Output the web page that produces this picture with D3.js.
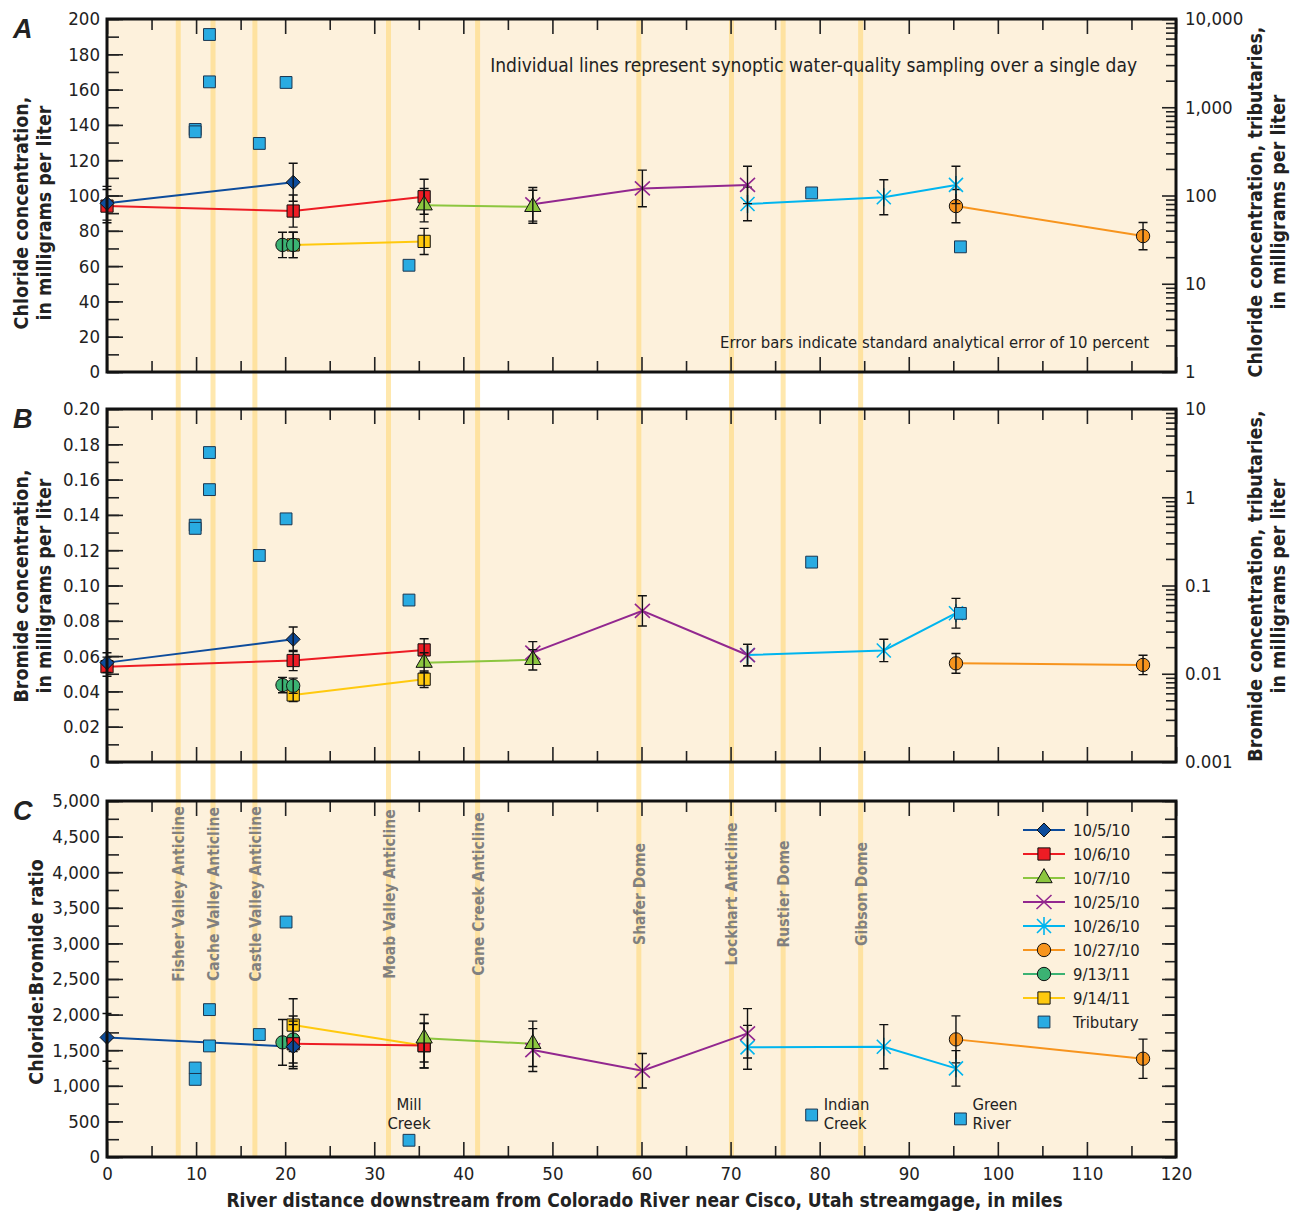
<!DOCTYPE html>
<html lang="en">

<head>
  <meta charset="UTF-8">
  <title>Chloride and bromide along the Colorado River</title>
  <style>
    body { margin: 0; background: #fff; }
    svg text { font-family: "DejaVu Sans Condensed", "DejaVu Sans", sans-serif; font-stretch: condensed; fill: #222; }
  </style>
</head>

<body>
  <script src="https://cdn.jsdelivr.net/npm/d3@7"></script>
  <script>
    // sampling dates (one synoptic run each)
    const dates = ['10/5/10', '10/6/10', '10/7/10', '10/25/10', '10/26/10', '10/27/10', '9/13/11', '9/14/11']
    // river miles of main-stem samples, per date
    const siteMiles = [[0, 20.9], [0, 20.9, 35.6], [35.6, 47.8], [47.8, 60.1, 71.9], [71.9, 87.2, 95.3], [95.3, 116.3], [19.7, 20.9], [20.9, 35.6]]
    // chloride, mg/L
    const chloride = [[95.6, 107.5], [94, 91.2, 99.3], [94.5, 93.6], [95, 104, 106], [95.2, 99, 106], [94, 77], [72, 72], [72, 74]]
    // bromide, mg/L
    const bromide = [[0.0563, 0.0695], [0.054, 0.0575, 0.0635], [0.0563, 0.0579], [0.062, 0.0856, 0.0606], [0.0606, 0.0632, 0.0843], [0.0559, 0.055], [0.0436, 0.0432], [0.038, 0.0469]]
    // chloride:bromide ratio (no ratio plotted for 10/6/10 at mile 0)
    const ratio = [[1680, 1549], [null, 1590, 1565], [1667, 1590], [1502, 1212, 1737], [1540, 1549, 1245], [1652, 1380], [1610, 1650], [1853, 1563]]

    // tributaries
    const tribMiles = [9.9, 9.9, 11.5, 11.5, 17.1, 20.1, 33.9, 79.1, 95.8]
    const tribChloride = [560, 527, 6670, 1940, 389, 1910, 16.2, 107, 26.2]
    const tribBromide = [0.483, 0.444, 3.21, 1.22, 0.219, 0.569, 0.0684, 0.184, 0.0483]
    const tribRatio = [1250, 1090, 2070, 1560, 1720, 3300, 235, 590, 535]

    // geologic structures crossed by the river
    const structureNames = ['Fisher Valley Anticline', 'Cache Valley Anticline', 'Castle Valley Anticline', 'Moab Valley Anticline', 'Cane Creek Anticline', 'Shafer Dome', 'Lockhart Anticline', 'Rustier Dome', 'Gibson Dome']
    const structureMiles = [8.0, 11.9, 16.6, 31.6, 41.6, 59.7, 70.1, 75.9, 84.6]

    // tick labels
    const xTickLabels = [0, 10, 20, 30, 40, 50, 60, 70, 80, 90, 100, 110, 120]
    const clTicks = [0, 20, 40, 60, 80, 100, 120, 140, 160, 180, 200]
    const brTicks = [0, 0.02, 0.04, 0.06, 0.08, 0.10, 0.12, 0.14, 0.16, 0.18, 0.20]
    const ratioTicks = [0, 500, 1000, 1500, 2000, 2500, 3000, 3500, 4000, 4500, 5000]
    const clLogTicks = [1, 10, 100, 1000, 10000]
    const brLogTicks = [0.001, 0.01, 0.1, 1, 10]

    const colors = ['#0d4c9c', '#ed1c24', '#8cc63f', '#92278f', '#00b5ef', '#f7941d', '#3bb273', '#ffc90e']
    const shapes = ['diamond', 'square', 'triangle', 'x', 'asterisk', 'circle', 'circle', 'square']
    const drawOrder = [7, 6, 5, 4, 3, 1, 2, 0]

    let width = 1297
    let height = 1215
    let svg = d3.select('body')
      .append('svg')
      .attr('width', width)
      .attr('height', height)

    let xScale = d3.scaleLinear().domain([0, 120]).range([107, 1176])

    let panels = [
      {
        top: 19, bottom: 372, letter: 'A',
        y: d3.scaleLinear().domain([0, 200]).range([372, 19]),
        ticks: clTicks, minor: 10, fmt: d3.format('d'),
        yLog: d3.scaleLog().domain([1, 10000]).range([372, 19]), logTicks: clLogTicks, logFmt: d3.format(','),
        values: chloride, err: 0.1, trib: tribChloride
      },
      {
        top: 409, bottom: 762, letter: 'B',
        y: d3.scaleLinear().domain([0, 0.2]).range([762, 409]),
        ticks: brTicks, minor: 0.01, fmt: d => d === 0 ? '0' : d3.format('.2f')(d),
        yLog: d3.scaleLog().domain([0.001, 10]).range([762, 409]), logTicks: brLogTicks, logFmt: d => String(d),
        values: bromide, err: 0.1, trib: tribBromide
      },
      {
        top: 801, bottom: 1157, letter: 'C',
        y: d3.scaleLinear().domain([0, 5000]).range([1157, 801]),
        ticks: ratioTicks, minor: 250, fmt: d3.format(','),
        yLog: null,
        values: ratio, err: 0.2, trib: tribRatio
      }
    ]

    // backgrounds
    panels.forEach(p => {
      svg.append('rect')
        .attr('x', xScale(0)).attr('y', p.top)
        .attr('width', xScale(120) - xScale(0)).attr('height', p.bottom - p.top)
        .attr('fill', '#fdf1dc')
    })

    // structure bands run through all three panels
    svg.selectAll('.band')
      .data(structureMiles)
      .enter()
      .append('rect')
      .attr('class', 'band')
      .attr('x', d => xScale(d) - 2.5)
      .attr('y', 19)
      .attr('width', 5)
      .attr('height', 1157 - 19)
      .attr('fill', '#ffd978')
      .attr('opacity', 0.6)

    // structure names in panel C
    svg.selectAll('.structure')
      .data(structureNames)
      .enter()
      .append('text')
      .attr('class', 'structure')
      .attr('transform', (d, i) => `translate(${xScale(structureMiles[i]) + 6},894) rotate(-90)`)
      .attr('text-anchor', 'middle')
      .style('font-size', '15.5px')
      .style('font-weight', 'bold')
      .style('fill', '#808080')
      .text(d => d)

    function markerPath(shape) {
      if (shape === 'circle') return d3.symbol(d3.symbolCircle, 140)()
      if (shape === 'square') return d3.symbol(d3.symbolSquare, 150)()
      if (shape === 'triangle') return d3.symbol(d3.symbolTriangle, 115)()
      if (shape === 'diamond') return 'M0,-7L7,0L0,7L-7,0Z'
      if (shape === 'x') return 'M-7.5,-7L7.5,7M-7.5,7L7.5,-7'
      return 'M-7,-7L7,7M-7,7L7,-7M0,-9L0,9'
    }

    function drawMarker(g, shape, color, x, y) {
      let stroked = shape === 'x' || shape === 'asterisk'
      g.append('path')
        .attr('d', markerPath(shape))
        .attr('transform', `translate(${x},${y})`)
        .attr('fill', stroked ? 'none' : color)
        .attr('stroke', stroked ? color : '#111')
        .attr('stroke-width', stroked ? 1.6 : 1)
    }

    panels.forEach(p => {
      let g = svg.append('g')

      // axes, ticks pointing inward
      let minorVals = d3.range(p.y.domain()[0], p.y.domain()[1] + p.minor / 2, p.minor)
      g.append('g').attr('transform', `translate(${xScale(0)},0)`)
        .call(d3.axisLeft(p.y).tickValues(minorVals).tickSizeInner(-12).tickSizeOuter(0).tickFormat(''))
      g.append('g').attr('class', 'ylab').attr('transform', `translate(${xScale(0)},0)`)
        .call(d3.axisLeft(p.y).tickValues(p.ticks).tickSizeInner(-16).tickSizeOuter(0).tickPadding(7).tickFormat(p.fmt))

      if (p.yLog) {
        let logMinor = []
        p.logTicks.slice(0, -1).forEach(t => { for (let k = 2; k <= 9; k++) logMinor.push(t * k) })
        g.append('g').attr('transform', `translate(${xScale(120)},0)`)
          .call(d3.axisRight(p.yLog).tickValues(logMinor).tickSizeInner(-10).tickSizeOuter(0).tickFormat(''))
        g.append('g').attr('class', 'ylab').attr('transform', `translate(${xScale(120)},0)`)
          .call(d3.axisRight(p.yLog).tickValues(p.logTicks).tickSizeInner(-14).tickSizeOuter(0).tickPadding(9).tickFormat(p.logFmt))
      } else {
        g.append('g').attr('transform', `translate(${xScale(120)},0)`)
          .call(d3.axisRight(p.y).tickValues(minorVals).tickSizeInner(-11).tickSizeOuter(0).tickFormat(''))
        g.append('g').attr('transform', `translate(${xScale(120)},0)`)
          .call(d3.axisRight(p.y).tickValues(p.ticks).tickSizeInner(-14).tickSizeOuter(0).tickFormat(''))
      }

      let xMinor = d3.range(5, 120, 10)
      g.append('g').attr('transform', `translate(0,${p.top})`)
        .call(d3.axisTop(xScale).tickValues(xMinor).tickSizeInner(-11).tickSizeOuter(0).tickFormat(''))
      g.append('g').attr('transform', `translate(0,${p.top})`)
        .call(d3.axisTop(xScale).tickValues(xTickLabels).tickSizeInner(-15).tickSizeOuter(0).tickFormat(''))
      g.append('g').attr('transform', `translate(0,${p.bottom})`)
        .call(d3.axisBottom(xScale).tickValues(xMinor).tickSizeInner(-11).tickSizeOuter(0).tickFormat(''))
      g.append('g').attr('transform', `translate(0,${p.bottom})`)
        .call(d3.axisBottom(xScale).tickValues(xTickLabels).tickSizeInner(-15).tickSizeOuter(0).tickPadding(10)
          .tickFormat(p.letter === 'C' ? d3.format('d') : ''))

      g.selectAll('.domain').remove()
      g.selectAll('.tick line').attr('stroke', '#222').attr('stroke-width', 1.6)
      g.selectAll('.tick text').style('font-size', '18.5px').attr('fill', '#222')

      // lines under all markers
      let line = d3.line()
        .defined(d => d[1] != null)
        .x(d => xScale(d[0]))
        .y(d => p.y(d[1]))
      drawOrder.forEach(s => {
        let pts = siteMiles[s].map((m, i) => [m, p.values[s][i]])
        g.append('path')
          .attr('d', line(pts))
          .attr('fill', 'none')
          .attr('stroke', colors[s])
          .attr('stroke-width', 2)
      })

      // markers and error bars, series by series
      drawOrder.forEach(s => {
        let sg = g.append('g')
        siteMiles[s].forEach((m, i) => {
          let v = p.values[s][i]
          if (v == null) return
          drawMarker(sg, shapes[s], colors[s], xScale(m), p.y(v))
        })
        siteMiles[s].forEach((m, i) => {
          let v = p.values[s][i]
          if (v == null) return
          let x = xScale(m)
          let y1 = p.y(v * (1 + p.err))
          let y2 = p.y(v * (1 - p.err))
          sg.append('path')
            .attr('d', `M${x},${y1}L${x},${y2}M${x - 4.5},${y1}L${x + 4.5},${y1}M${x - 4.5},${y2}L${x + 4.5},${y2}`)
            .attr('stroke', '#111')
            .attr('stroke-width', 1.4)
            .attr('fill', 'none')
        })
      })

      // tributaries, on the log axis for A and B
      let ty = p.yLog ? p.yLog : p.y
      g.selectAll('.trib')
        .data(p.trib)
        .enter()
        .append('path')
        .attr('class', 'trib')
        .attr('d', d3.symbol(d3.symbolSquare, 140)())
        .attr('transform', (d, i) => `translate(${xScale(tribMiles[i])},${ty(d)})`)
        .attr('fill', '#29abe2')
        .attr('stroke', '#1a3550')
        .attr('stroke-width', 1)

      // frame
      g.append('rect')
        .attr('x', xScale(0)).attr('y', p.top)
        .attr('width', xScale(120) - xScale(0)).attr('height', p.bottom - p.top)
        .attr('fill', 'none')
        .attr('stroke', '#111')
        .attr('stroke-width', 3)

      svg.append('text')
        .attr('x', 13).attr('y', p.top + 19)
        .style('font-family', '"Liberation Sans", Arial, sans-serif')
        .style('font-size', '27px')
        .style('font-weight', 'bold')
        .style('font-style', 'italic')
        .text(p.letter)
    })

    // axis titles
    function vtitle(lines, x, y, gap) {
      lines.forEach((t, i) => {
        svg.append('text')
          .attr('transform', `translate(${x + i * gap},${y}) rotate(-90)`)
          .attr('text-anchor', 'middle')
          .style('font-size', '19.5px')
          .style('font-weight', 'bold')
          .text(t)
      })
    }
    vtitle(['Chloride concentration,', 'in milligrams per liter'], 28, 213, 23)
    vtitle(['Bromide concentration,', 'in milligrams per liter'], 28, 586, 23)
    vtitle(['Chloride:Bromide ratio'], 43, 972, 0)
    vtitle(['Chloride concentration, tributaries,', 'in milligrams per liter'], 1262, 202, 23)
    vtitle(['Bromide concentration, tributaries,', 'in milligrams per liter'], 1262, 586, 23)

    svg.append('text')
      .attr('x', (xScale(0) + xScale(120)) / 2 + 3).attr('y', 1207)
      .attr('text-anchor', 'middle')
      .style('font-size', '19px')
      .style('font-weight', 'bold')
      .text('River distance downstream from Colorado River near Cisco, Utah streamgage, in miles')

    svg.append('text')
      .attr('x', 1137).attr('y', 72)
      .attr('text-anchor', 'end')
      .style('font-size', '19px')
      .text('Individual lines represent synoptic water-quality sampling over a single day')

    svg.append('text')
      .attr('x', 1149).attr('y', 348)
      .attr('text-anchor', 'end')
      .style('font-size', '16.5px')
      .text('Error bars indicate standard analytical error of 10 percent')

    // tributary names in panel C
    let tribLabels = [
      { i: 6, lines: ['Mill', 'Creek'], anchor: 'middle', dx: 0 },
      { i: 7, lines: ['Indian', 'Creek'], anchor: 'start', dx: 12 },
      { i: 8, lines: ['Green', 'River'], anchor: 'start', dx: 12 }
    ]
    tribLabels.forEach(t => {
      t.lines.forEach((s, k) => {
        svg.append('text')
          .attr('x', xScale(tribMiles[t.i]) + t.dx)
          .attr('y', 1110 + k * 19)
          .attr('text-anchor', t.anchor)
          .style('font-size', '16.5px')
          .text(s)
      })
    })

    // legend
    let legend = svg.append('g')
    dates.forEach((d, i) => {
      let y = 830 + i * 24
      legend.append('line')
        .attr('x1', 1023).attr('x2', 1065).attr('y1', y).attr('y2', y)
        .attr('stroke', colors[i]).attr('stroke-width', 2)
      drawMarker(legend, shapes[i], colors[i], 1044, y)
      legend.append('text').attr('x', 1073).attr('y', y + 6).style('font-size', '16.5px').text(d)
    })
    legend.append('path')
      .attr('d', d3.symbol(d3.symbolSquare, 140)())
      .attr('transform', `translate(1044,${830 + 8 * 24})`)
      .attr('fill', '#29abe2').attr('stroke', '#1a3550')
    legend.append('text').attr('x', 1073).attr('y', 830 + 8 * 24 + 6).style('font-size', '16.5px').text('Tributary')
  </script>
</body>

</html>
